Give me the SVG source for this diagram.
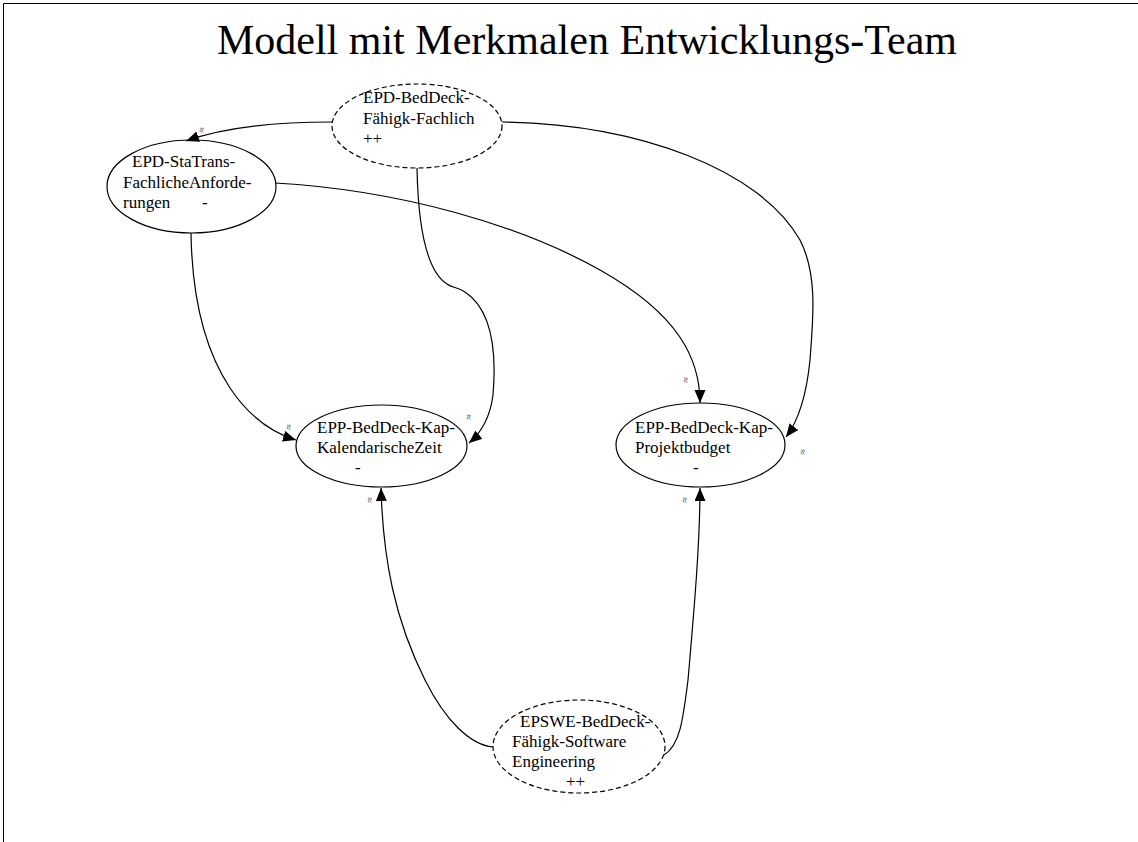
<svg xmlns="http://www.w3.org/2000/svg" width="1138" height="842" viewBox="0 0 1138 842">
  <style>
    .lbl { font-family: "Liberation Serif", "Times New Roman", serif; font-size: 17px; fill: #000; }
    .title { font-family: "Liberation Serif", "Times New Roman", serif; font-size: 42px; fill: #000; }
    .tag { font-family: "Liberation Serif", "Times New Roman", serif; font-size: 10px; fill: #333; }
    .solid { fill: none; stroke: #000; stroke-width: 1.2; }
    .dashed { fill: none; stroke: #000; stroke-width: 1.2; stroke-dasharray: 5 3; }
    .edge { fill: none; stroke: #000; stroke-width: 1.2; marker-end: url(#arrow); }
  </style>
  <defs>
    <marker id="arrow" markerWidth="14" markerHeight="12" refX="13" refY="5.5" orient="auto" markerUnits="userSpaceOnUse">
      <path d="M0,0 L13,5.5 L0,11 Z" fill="#000"/>
    </marker>
  </defs>

  <rect width="1138" height="842" fill="#fff"/>
  <!-- page frame: top and left rules -->
  <path d="M3.5,842 L3.5,3.5 L1138,3.5" fill="none" stroke="#000" stroke-width="1"/>

  <text class="title" x="587" y="54" text-anchor="middle">Modell mit Merkmalen Entwicklungs-Team</text>

  <g id="connectors">
    <path class="edge" d="M332,122 C290,122 230,125 186,141"/>
    <path class="edge" d="M417,168 C418,220 425,270 447,284 C452,288 458,287 465,292 C495,312 496,360 493,395 C490,418 482,432 469,443"/>
    <path class="edge" d="M502,122 C640,124 760,170 800,240 C818,275 813,320 810,360 C806,400 796,424 786,437"/>
    <path class="edge" d="M275,183 C400,190 520,225 600,270 C680,315 700,360 700,403"/>
    <path class="edge" d="M191,233 C192,300 205,350 230,388 C248,415 270,432 296,440"/>
    <path class="edge" d="M493,747 C470,745 445,720 425,680 C395,620 383,560 381,488"/>
    <path class="edge" d="M664,755 C680,745 683,720 688,680 C695,600 700,540 700,488"/>
    <text class="tag" transform="translate(205,130) rotate(-90)" text-anchor="middle">≈</text>
    <text class="tag" transform="translate(472,417) rotate(-90)" text-anchor="middle">≈</text>
    <text class="tag" transform="translate(806,452) rotate(-90)" text-anchor="middle">≈</text>
    <text class="tag" transform="translate(689,380) rotate(-90)" text-anchor="middle">≈</text>
    <text class="tag" transform="translate(292,427) rotate(-90)" text-anchor="middle">≈</text>
    <text class="tag" transform="translate(373,500) rotate(-90)" text-anchor="middle">≈</text>
    <text class="tag" transform="translate(688,500) rotate(-90)" text-anchor="middle">≈</text>
  </g>

  <g id="node-fachlich">
    <ellipse class="dashed" cx="417" cy="126" rx="85" ry="42"/>
    <text class="lbl" x="363" y="103">EPD-BedDeck-</text>
    <text class="lbl" x="363" y="124">Fähigk-Fachlich</text>
    <text class="lbl" x="363" y="144">++</text>
  </g>

  <g id="node-anforderungen">
    <ellipse class="solid" cx="191.5" cy="186.5" rx="84.5" ry="46.5"/>
    <text class="lbl" x="132" y="167">EPD-StaTrans-</text>
    <text class="lbl" x="123" y="188">FachlicheAnforde-</text>
    <text class="lbl" x="123" y="208">rungen</text>
    <text class="lbl" x="202" y="208">-</text>
  </g>

  <g id="node-zeit">
    <ellipse class="solid" cx="381.5" cy="446" rx="85.5" ry="41"/>
    <text class="lbl" x="317" y="433">EPP-BedDeck-Kap-</text>
    <text class="lbl" x="317" y="453">KalendarischeZeit</text>
    <text class="lbl" x="355" y="473">-</text>
  </g>

  <g id="node-budget">
    <ellipse class="solid" cx="700.5" cy="445" rx="84.5" ry="42"/>
    <text class="lbl" x="635" y="433">EPP-BedDeck-Kap-</text>
    <text class="lbl" x="635" y="453">Projektbudget</text>
    <text class="lbl" x="693" y="473">-</text>
  </g>

  <g id="node-software">
    <ellipse class="dashed" cx="579" cy="746.5" rx="86" ry="46.5"/>
    <text class="lbl" x="520" y="727">EPSWE-BedDeck-</text>
    <text class="lbl" x="512" y="747">Fähigk-Software</text>
    <text class="lbl" x="512" y="767">Engineering</text>
    <text class="lbl" x="566" y="787">++</text>
  </g>
</svg>
